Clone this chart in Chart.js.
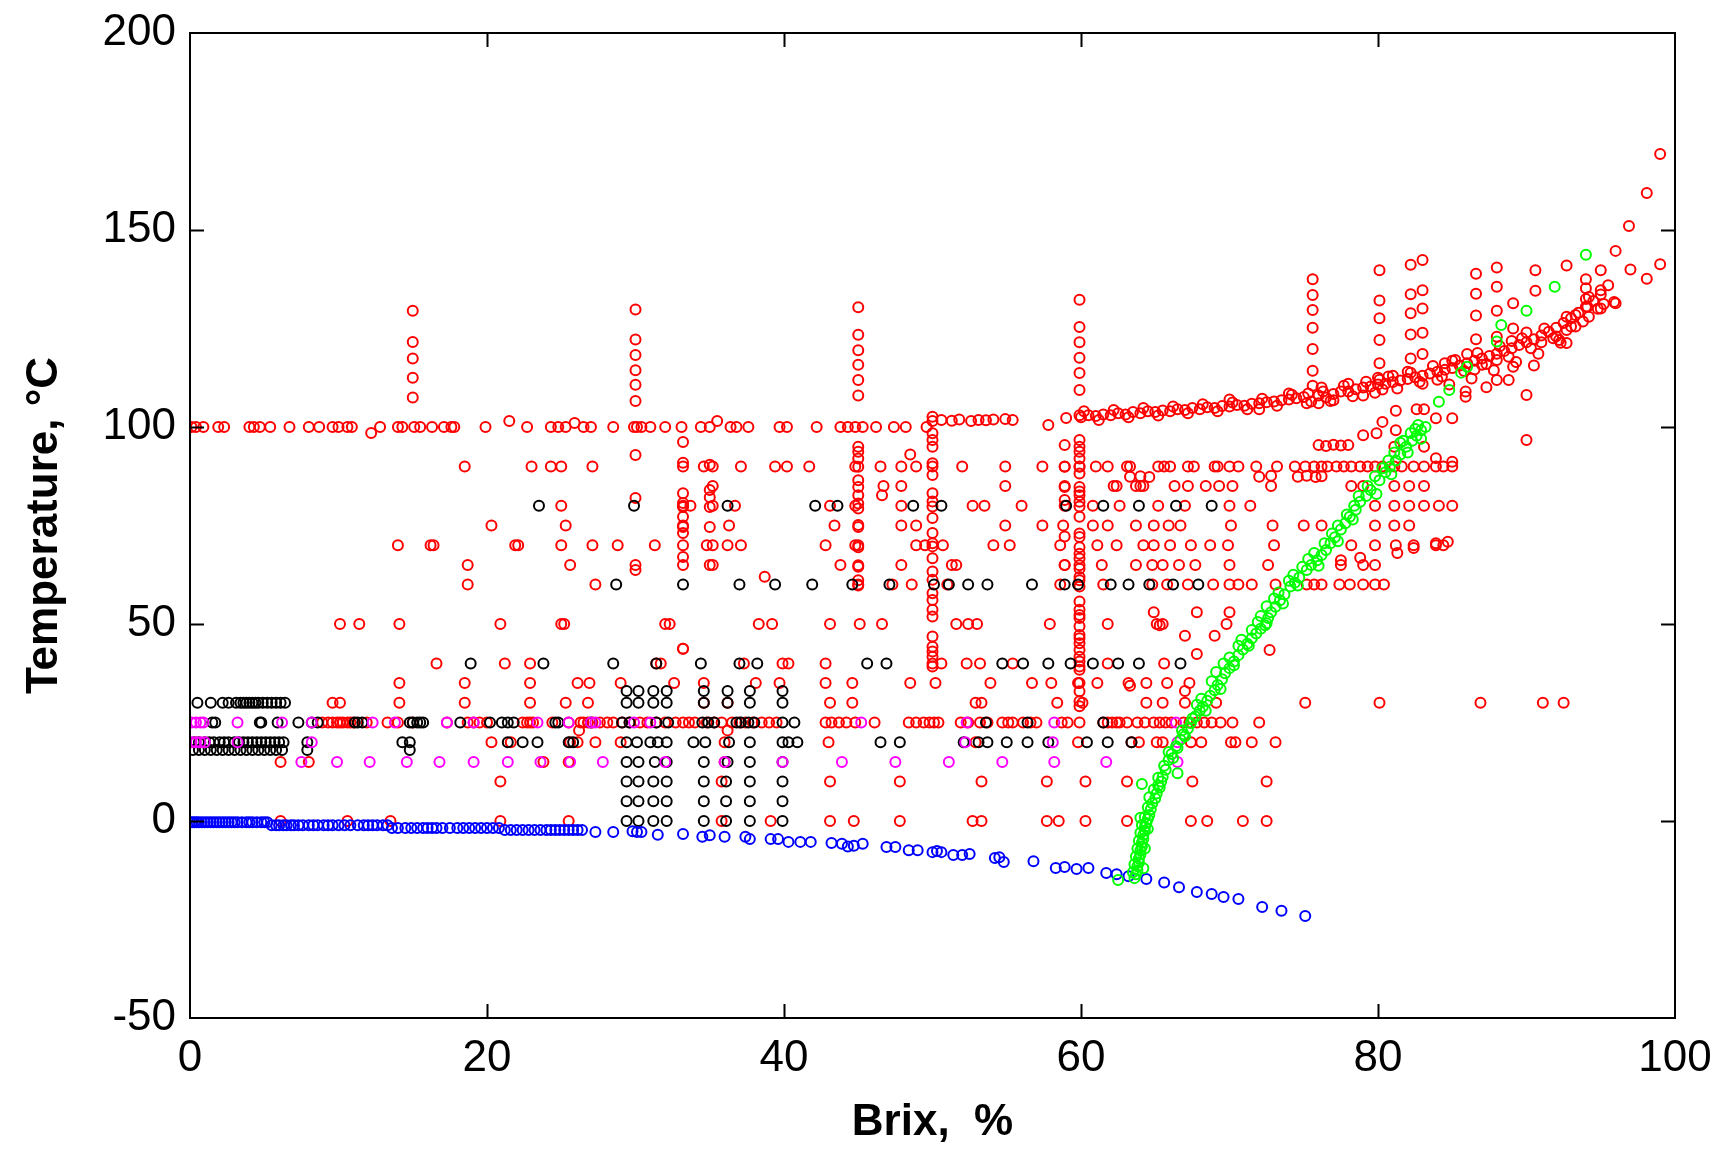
<!DOCTYPE html>
<html>
<head>
<meta charset="utf-8">
<script src="https://cdn.jsdelivr.net/npm/chart.js@4.4.0/dist/chart.umd.min.js"></script>
<style>
  html, body { margin: 0; padding: 0; background: #fff; }
  #wrap { width: 1730px; height: 1162px; position: relative; }
</style>
</head>
<body>
<div id="wrap"><canvas id="chart"></canvas></div>
<script>
// Brix vs temperature scatter (MATLAB style export)
// rows = measurements at one temperature, cols = one Brix, pairs = free points

// ---- red: boiling / general data ----
const red100 = [0.1, 0.4, 0.9, 1.9, 2.3, 4, 4.3, 4.7, 5.4, 6.7, 8, 8.7, 9.6, 10, 10.6, 10.9, 12.8, 14, 14.3, 15.1, 15.5, 16.3, 17.1, 17.6, 17.8, 19.9, 22.7, 24.3, 24.8, 25.3, 26.5, 27, 28.5, 29.9, 30.1, 30.4, 31, 32, 33.1, 34.4, 35, 36.4, 36.8, 37.6, 39.7, 40.2, 42.2, 43.8, 44.3, 44.8, 45.3, 46.2, 47.4, 48.2, 49.6];
const red90 = [18.5, 23, 24.3, 25, 27.1, 33.2, 34.6, 35.2, 37.1, 39.4, 40.2, 41.7, 44.8, 46.5, 47.9, 48.9, 50, 52, 54.9, 57.4, 58.9, 59.9, 61, 61.8, 63.1, 63.3, 65.2, 65.6, 66, 67.2, 67.6, 69, 69.2, 70, 70.6, 71.8, 73.2, 74.4, 75.1, 75.7, 76.2, 76.6, 77.2, 77.7, 78.2, 78.8, 79.3, 79.8, 80.3, 81.1, 81.6, 82.4, 83.1, 83.9, 84.4, 85];
const red85 = [35.2, 46.7, 47.9, 54.9, 58.9, 62.2, 62.4, 63.7, 64, 64.2, 66.3, 67.2, 68.4, 69.3, 70.2, 72.8, 78.2, 79, 81.1, 82.1, 83.1];
const red80 = [25, 33.2, 33.7, 35.2, 36.7, 43.1, 44.8, 47.9, 52.7, 53.5, 56, 58.9, 60.8, 62.6, 65.2, 67, 70, 71.4, 79.8, 81.1, 82.1, 83.1, 84.1, 85];
const red75 = [20.3, 25.3, 33.2, 36.3, 43.4, 47.9, 48.9, 54.9, 57.4, 58.8, 60.8, 61.8, 63.7, 64.9, 65.9, 66.7, 70.1, 72.9, 75, 76.2, 79.8, 81.1, 82.1];
const red70 = [14, 16.2, 16.4, 21.9, 22.1, 25, 27.1, 28.8, 31.3, 33.2, 34.8, 35.2, 36.2, 37.1, 42.8, 44.8, 48.9, 49.5, 50.7, 54.1, 55.2, 58.6, 61.1, 62.4, 64.2, 64.9, 66, 67.4, 68.7, 69.9, 73, 78.2, 79.8, 81.2, 82.4, 83.9, 84.4];
const red65 = [18.7, 25.6, 30, 33.2, 35.2, 43.8, 47.9, 51.3, 51.6, 58.9, 61.4, 63.7, 64.8, 65.5, 66.6, 67.7, 70, 72.6, 77.5, 79, 79.8];
const red60 = [18.7, 27.3, 45, 47.3, 48.6, 51, 58.6, 61.5, 64.8, 65.8, 67.2, 68.9, 70, 70.6, 71.5, 73.1, 75.2, 75.7, 76.2, 77.4, 78.1, 79, 79.8, 80.4];
const red50 = [10.1, 11.4, 14.1, 20.9, 25, 25.2, 32, 32.3, 38.3, 39.2, 43.1, 45.1, 46.6, 51.6, 52.4, 53, 57.9, 61.8, 65.1, 65.5, 69.8];
const red40 = [16.6, 21.2, 22.9, 31.4, 31.7, 37.3, 39.9, 40.3, 42.8, 50.6, 52.3, 53.2, 55.4, 61.8, 65.6];
const red35 = [14.1, 18.5, 22.9, 26.1, 26.9, 29, 32.6, 34.6, 38.1, 39.7, 42.8, 44.6, 48.5, 50.2, 53.9, 56.7, 58, 59.8, 61.1, 63.2, 64.4, 65.8, 67.3];
const red30 = [9.6, 10.1, 14.1, 18.5, 22.9, 25.3, 26.8, 34.6, 36.2, 43.1, 44.6, 52.9, 53.3, 58.4, 60.1, 64.4, 65.5, 67, 69.1, 75.1, 80.1, 86.9, 91.1, 92.5];
const red25 = [8.9, 9.3, 9.6, 9.9, 10.1, 10.3, 10.6, 10.8, 11, 11.9, 13.3, 14, 15, 17.3, 18.7, 19.1, 19.5, 20, 22.4, 22.7, 22.9, 23.1, 24.4, 25.5, 26.3, 26.5, 26.8, 27.1, 27.6, 28.1, 28.5, 29.1, 29.6, 30.3, 30.8, 31.4, 32, 32.7, 33.2, 33.6, 34, 34.8, 35.3, 35.8, 36.5, 37, 37.4, 37.9, 38.5, 39, 39.5, 42.8, 43.2, 43.7, 44.2, 44.8, 46.1, 48.4, 48.9, 49.4, 49.8, 50.1, 50.4, 51.9, 52.4, 53.2, 53.7, 54.7, 55.1, 55.4, 56.1, 56.6, 57, 58.7, 59.1, 59.9, 61.5, 61.8, 62.1, 62.4, 62.6, 63.1, 63.8, 64.3, 64.9, 65.3, 65.7, 66.1, 66.9, 67.3, 67.8, 68.3, 68.8, 69.4, 70.2, 72];
const red20 = [20.3, 21.6, 25.6, 26.1, 27.3, 29, 36, 43, 52.9, 59.8, 63.4, 63.9, 65.1, 65.5, 67.4, 68.1, 70.1, 70.4, 71.5, 73.1];
const red15 = [6.1, 8, 23.8, 25.5, 36];
const red10 = [20.9, 35.8, 43.1, 47.8, 53.3, 57.7, 60.3, 63.1, 67.5, 72.5];
const red0 = [6.1, 10.6, 13.5, 20.9, 25.5, 35.8, 39.1, 43.1, 44.7, 47.8, 52.7, 53.3, 57.7, 58.5, 60.3, 63.1, 67.4, 68.5, 70.9, 72.5];

const redBrix15 = [129.5, 121.6, 117.4, 112.5, 107.5];
const redBrix30 = [129.8, 122.2, 118.3, 114.4, 110.7, 106.6, 92.9, 82, 63.7];
const redBrix33 = [96.2, 90.9, 83.2, 80.7, 79.7, 77.2, 74.6, 73.1, 67, 43.7];
const redBrix35 = [90.4, 84, 82.2, 79.7, 74.6, 65];
const redBrix45 = [130.4, 123.4, 119.5, 115.8, 111.9, 108, 95, 93.7, 92, 89.9, 86.5, 84.8, 82.7, 80.6, 79.3, 75.1, 74.6, 70, 69.5, 64.9, 64.5, 61.1, 59.8];
const redBrix50 = [102.6, 98.4, 96.7, 95, 90.8, 87.8, 83.2, 81.1, 79.8, 76.9, 73.1, 70.5, 69.7, 66.7, 63.3, 61.2, 57.8, 56.1, 53.6, 51.9, 46.8, 44.2, 43, 41.7, 40, 39.2];
const redBrix59 = [95.4, 89.9, 84.8, 81.5, 72.2, 65];
const redBrix60 = [132.3, 125.4, 121.5, 117.6, 113.7, 109.4, 103, 96.7, 95, 93.7, 92, 89.9, 88.2, 84.8, 83.6, 82.7, 81, 79.8, 77.2, 73, 72.1, 69.5, 67.8, 66.6, 64.9, 64, 61.9, 61.1, 59.5, 55.7, 53.6, 52.3, 51.5, 49.4, 47.2, 46.4, 45.1, 43.4, 41.7, 40.5, 39.2, 38.4, 35, 32.9, 30.4, 29.1];

const redHigh = [[75.6,137.5],[75.6,133.5],[75.6,129.7],[75.6,125.2],[75.6,119.8],[75.6,114.3],[75.6,110.5],
  [80.1,139.8],[80.1,132.1],[80.1,127.6],[80.1,122.1],[80.1,116.2],[80.1,112],
  [82.2,141.2],[83,142.4],[82.2,133.7],[83,134.7],[82.2,128.9],[83,130.1],[82.2,123.5],[83,123.9],[82.2,117.4],[83,118.5],
  [86.6,138.9],[86.6,133.8],[86.6,128.3],[86.6,122.3],[88,140.5],[88,135.6],[88,129.5],[88,122.9],
  [90.6,139.8],[90.6,134.6],[89.1,131.4],[89.1,125],[94,137.5],[94,135.2],[95,139.8],[95,134.7],[96,131.4],[95,130.1],
  [94.1,130.5],[94.2,128],[93.3,128.4],[92.7,124.6],[92.2,122.1],[92.7,121.3],[89.1,115.3],[90.5,115.6],[88,111.9],
  [88.8,111.9],[87.3,110.1],[85.9,109],[85.9,107.7],[90,108.1],[90,96.7],[85,102.2],[83.9,102.2],[83.1,104.5],[82.6,104.5],
  [81.2,104.1],[81.2,99.2],[80.3,101.3],[79,97.9],[79.9,98.4],[81.1,95],[83.1,95],[83.9,92.1],[85,91.2],
  [84.7,70.9],[83.9,70.5],[82.4,69.3],[81.3,68],[77.5,66.2],[78.8,66.8],
  [99,169.3],[98.1,159.4],[96.9,151],[96,144.7],[99,141.3],[98.1,137.6],[97,140],[95.9,131.7],[92.7,141]];

const redCurve = [[60,102.5],[60.5,103],[61,102.8],[61.5,103.2],[62,103],[62.5,103.5],[63,103.2],[63.5,103.8],[64,103.5],[64.5,104],
  [65,103.8],[65.5,104.2],[66,104],[66.5,104.5],[67,104.3],[67.5,104.8],[68,104.5],[68.5,105],[69,104.8],[69.5,105.3],
  [70,105.2],[70.5,105.6],[71,105.4],[71.5,105.9],[72,106],[72.5,106.3],[73,106.5],[73.5,106.8],[74,107],[74.5,107.3],
  [75,107.6],[75.3,108.5],[75.5,106.5],[76,108],[76.3,109],[76.5,107.5],[77,108.4],[77.5,109],[78,109],[78.5,109.6],
  [79,110],[79.5,110.3],[80,110.8],[80.3,109.5],[80.5,111],[81,111.4],[81.5,111.8],[82,112.2],[82.5,112.6],[83,113],
  [83.5,113.6],[84,114],[84.5,114.5],[85,115],[85.5,115.6],[86,116.2],[86.5,116.8],[87,117.4],[87.5,118],[88,118.6],
  [88.5,119.3],[89,120],[89.5,120.8],[90,121.5],[90.5,122.3],[91,123.2],[91.5,124.2],[92,125.2],[92.5,126.4],[93,127.6],
  [93.5,129],[94,130.5],[94.5,132],[95,133.6],[70,107],[72,104.5],[74,108.5],[76,106],[78,111],[80,112.5],[82,114],
  [84,112],[86,118.5],[88,117],[90,124],[92,123],[94,132.5],[77,106.8],[79,108],[81,113],[83,111],[85,116.8],[87,115.8],
  [89,121.8],[91,121.5],[93,125.5],[84.5,116.2],[86.5,114.6],
  [60.2,104],[61.2,101.8],[62.2,104.3],[63.2,102.5],[64.2,104.8],[65.2,102.9],[66.2,105.2],[67.2,103.5],[68.2,105.8],
  [69.2,104],[70.2,106.2],[71.2,104.5],[72.2,107.2],[73.2,105.4],[74.2,108.2],[75.2,106],[76.2,110],[76.8,106.6],
  [77.7,110.5],[78.3,107.8],[79.2,111.5],[79.8,108.7],[80.7,112.8],[81.3,109.8],[82.2,113.8],[82.8,111.5],[83.7,115.5],
  [84.3,112.8],[85.2,117],[85.8,114.2],[86.7,118.8],[87.3,116],[88.2,120.5],[88.8,117.8],[89.7,122.5],[90.3,120],
  [91.2,125],[91.8,122.5],[92.7,128],[93.3,125.5],[94.2,133],[94.8,130],[95.5,136],[95.2,131.2],[93.8,126.8],
  [92.3,121.4],[90.8,118.6],[89.3,116.5],[87.8,114.4],[86.3,112.3],[84.8,110.8]];

const redMisc = [[12.2,98.5],[21.5,101.5],[25.9,101],[35.5,101.5],[50,101.5],[50.6,101.8],[51.3,101.6],[51.8,101.9],
  [52.6,101.5],[53.1,101.8],[53.6,101.7],[54.1,101.9],[54.9,102],[55.4,101.8],[57.8,100.5],[59,102.3],
  [76,95.4],[76.5,95.2],[77,95.5],[77.5,95.3],[78,95.4],[72,87.4],[72.8,87.6],[74.6,87.4],[75.2,87.6],[75.8,87.3],
  [76.2,87.5],[63.3,87.4],[64,87.5],[64.6,87.3],[46.6,82.7],[33.2,43.7],[38.7,62],[26.2,23],[36.2,23],
  [64.9,53],[67.8,53],[70,53],[65.3,49.7],[67,47],[69,47],[72.7,43.4],[67.8,42.4],[63.3,34.3],[67,33],[48.5,93]];

// ---- black ----
const black80 = [23.5, 29.9, 36.2, 42.1, 43.6, 48.7, 50.6, 59, 61.5, 63.9, 66.4, 68.8];
const black60 = [28.7, 33.2, 37, 39.4, 41.9, 44.6, 47.1, 50.1, 51.1, 52.4, 53.7, 56.7, 58.9, 59.8, 62, 63.2, 64.6, 66.2, 67.9];
const black40 = [18.9, 23.8, 28.5, 31.4, 34.4, 37, 38.2, 45.6, 46.9, 54.7, 56.1, 57.8, 59.3, 60.8, 62.5, 63.9, 66.7];
const black33 = [29.4, 30.2, 31.2, 32.1, 34.6, 36.2, 37.7, 39.9];
const black30 = [0.5, 1.4, 2.2, 2.6, 3.1, 3.4, 3.6, 3.8, 4, 4.2, 4.4, 4.6, 4.9, 5.2, 5.5, 5.8, 6.1, 6.4, 29.4, 30.2, 31.2, 32.1, 34.6, 36.2, 37.7, 39.9];
const black25 = [1.5, 1.7, 4.7, 4.8, 5.9, 7.3, 8.2, 8.6, 11.1, 11.3, 11.6, 14.8, 15, 15.3, 15.5, 15.7, 18.2, 20.2, 21, 21.4, 21.8, 24.6, 24.8, 27, 29.1, 29.6, 31.4, 32.2, 34.5, 34.9, 35.3, 36.8, 37.1, 37.6, 38, 39.9, 40.7, 53.6, 56.4, 61.5];
const black20 = [0.3, 0.6, 1, 1.3, 1.6, 2, 2.3, 2.6, 3, 3.3, 3.6, 3.9, 4.2, 4.5, 4.8, 5.1, 5.4, 5.7, 6, 6.3, 7.9, 14.3, 14.8, 21.4, 22.4, 23.4, 25.5, 25.8, 29.4, 30.1, 31, 31.5, 32.1, 33.9, 34.7, 36.3, 37.7, 39.9, 40.3, 40.9, 46.5, 47.8, 52.1, 53.1, 53.7, 55, 56.4, 57.8, 60.4, 61.8, 63.4];
const black18 = [0.2, 0.6, 1, 1.4, 1.8, 2.2, 2.6, 3, 3.4, 3.8, 4.2, 4.6, 5, 5.4, 5.8, 6.2, 7.9, 14.8];
const black15 = [29.4, 30.2, 31.3, 32.1, 34.6, 36.2, 37.7, 39.9];
const black10 = [29.4, 30.2, 31.2, 32.1, 34.6, 36.1, 37.7, 39.9];
const black5 = [29.4, 30.2, 31.2, 32.1, 34.6, 36.1, 37.7, 39.9];
const black0 = [29.4, 30.2, 31.2, 32.1, 34.6, 36.1, 37.7, 39.9];

// ---- magenta ----
const mag25 = [0.1, 0.4, 0.7, 0.9, 3.2, 6.2, 8.2, 12.3, 13.8, 17.3, 19.1, 23.4, 25.5, 27, 27.3, 29.9, 31, 45.2, 52.3, 58.2, 66.4];
const mag20 = [0.1, 0.4, 0.7, 1, 3.2, 8.2, 52.2, 58.1, 66.5];
const mag15 = [7.5, 9.9, 12.1, 14.6, 16.8, 19.1, 21.4, 23.6, 25.6, 27.8, 32, 36, 39.9, 43.9, 47.5, 51.1, 54.7, 58.2, 61.7, 66.5];

// ---- blue: freezing points ----
const blueNear0 = [0, 0.15, 0.3, 0.45, 0.6, 0.8, 1, 1.2, 1.4, 1.6, 1.8, 2, 2.2, 2.4, 2.6, 2.8, 3, 3.2, 3.5, 3.8, 4, 4.2, 4.5, 4.8, 5, 5.2];
const blueNear1 = [5.5, 5.8, 6, 6.3, 6.5, 6.8, 7, 7.3, 7.6, 8, 8.3, 8.6, 9, 9.3, 9.6, 10, 10.4, 10.8, 11.3, 11.7, 12, 12.3, 12.6, 13, 13.3];
const blueNear2 = [13.6, 14, 14.5, 14.9, 15.3, 15.7, 16, 16.3, 16.6, 17, 17.5, 18, 18.4, 18.8, 19.2, 19.6, 20, 20.4, 20.8];
const blueNear3 = [21.2, 21.6, 22, 22.4, 22.8, 23.2, 23.6, 24, 24.3, 24.6, 24.9, 25.2, 25.5, 25.8, 26.1, 26.4];
const blueTail = [[27.3,-2.8],[28.5,-2.8],[29.8,-2.6],[30.1,-2.8],[30.4,-2.8],[31.5,-3.5],[33.2,-3.3],[34.5,-4],[35,-3.6],
  [36,-4],[37.4,-4],[37.7,-4.6],[39.1,-4.6],[39.6,-4.6],[40.3,-5.3],[41.1,-5.3],[41.8,-5.3],[43.2,-5.6],[43.9,-5.8],
  [44.3,-6.5],[44.7,-6.3],[45.3,-5.8],[46.9,-6.6],[47.5,-6.6],[48.4,-7.4],[49,-7.4],[50,-7.9],[50.3,-7.6],[50.6,-7.9],
  [51.4,-8.6],[52,-8.6],[52.5,-8.4],[54.2,-9.4],[54.5,-9.2],[54.8,-10.4],[56.8,-10.2],[58.3,-11.9],[58.9,-11.7],
  [59.7,-12.2],[60.5,-11.9],[61.7,-13.2],[62.4,-13.5],[63.2,-14],[64.4,-14.7],[65.6,-15.6],[66.6,-16.8],[67.8,-18],
  [68.8,-18.5],[69.6,-19.3],[70.6,-19.8],[72.2,-21.8],[73.5,-22.8],[75.1,-24.1]];

// ---- green ----
const greenPts = [[62.5,-15],[63.6,-14.5],[63.7,-13.5],[63.8,-12.5],[63.8,-11.5],[63.9,-10.5],[63.9,-9.5],[64,-8.5],[64,-7.5],
  [64.1,-6.5],[64.1,-5.5],[64.2,-4.5],[64.2,-3.5],[64.3,-2.5],[64.3,-1.5],[64.4,-0.5],[64.5,0.5],[64,0.8],[64.6,1.5],
  [64.7,3],[64.8,4.5],[65,5.8],[65.1,7],[65.3,8.5],[64.1,9.4],[65.4,10],[65.5,11.2],[66.5,12.1],[65.7,13],[65.9,15.5],
  [66.1,17],[66.4,19],[66.7,20.6],[66.9,22],[67.2,23.5],[67.4,24.9],[67.7,26.5],[68,28],[68.2,29],[68.5,30.5],[68.7,31.8],
  [69,33.2],[69.2,34.5],[69.5,36],[69.7,37.5],[70,38.8],[70.3,40.5],[70.6,42.1],[70.9,43.5],[71.2,45],[71.5,46.4],
  [71.8,47.6],[72.1,48.8],[72.4,49.7],[72.6,51.5],[72.8,53],[73.1,54.4],[73.4,56],[73.7,57.5],[74.1,59.5],[74.4,60.5],
  [74.7,61.8],[75.2,63.7],[75.5,65],[75.9,66.2],[76.2,67.5],[76.5,68.8],[76.8,70.5],[77.1,72],[77.5,74],[77.8,75.6],
  [78.1,77.2],[78.5,79],[78.8,81],[79.2,82.5],[79.5,84],[80.1,86.5],[80.5,88.5],[80.8,89.9],[81.2,91.5],[81.5,93],
  [81.9,95],[82.3,96.5],[82.6,97.8],[82.9,99.2],[83.2,100],[82.5,99.5],[81.5,96],
  [64.2,-12],[64.3,-7],[64.5,-2],[65.2,9],[66.2,16],[67,21.5],[68.4,28],[69.4,33.5],[70.3,39.5],[71.3,44.5],[72.5,50.2],
  [73.6,55.2],[74.6,59.8],[76,64.8],[77.3,71],[78.3,76.5],[79.9,83],[80.9,88],[82,93.5],[82.9,97],
  [63.5,-13],[63.6,-11],[63.7,-9],[63.8,-7],[63.9,-5],[64,-3],[64.1,-1],[64.3,1],[64.5,3.5],[64.6,6],[64.9,8],[65.2,11],
  [65.6,14],[65.9,17.5],[66.5,18.5],[66.8,23],[67.5,26],[67.8,29.5],[68.1,31],[68.8,35.5],[69.1,37.8],[69.6,40],[70,41.5],
  [70.6,44.5],[70.8,46],[71.5,48.5],[71.9,50.5],[72.1,52],[72.5,54.5],[73,56.5],[73.3,58],[74,61],[74.3,62.5],[74.9,64.5],
  [75.3,66.5],[75.7,68],[76.4,70.5],[76.9,73],[77.3,75],[77.9,77.8],[78.4,80],[78.7,82.5],[79.3,85],[79.8,87.5],
  [80.3,89.5],[80.7,91.5],[81.1,93.5],[81.7,96.5],[82.2,98.5],[82.7,100.5],
  [84.1,106.4],[84.8,109.4],[85.6,113.8],[86,115.3],[88,121.7],[88.3,125.9],[90,129.5],[91.9,135.6],[94,143.7]];

const row = (t, xs) => xs.map(x => ({ x, y: t }));
const col = (b, ts) => ts.map(y => ({ x: b, y }));
const pairs = (ps) => ps.map(([x, y]) => ({ x, y }));

const redData = [].concat(
  row(100, red100), row(90, red90), row(85, red85), row(80, red80), row(75, red75), row(70, red70),
  row(65, red65), row(60, red60), row(50, red50), row(40, red40), row(35, red35), row(30, red30),
  row(25, red25), row(20, red20), row(15, red15), row(10, red10), row(0, red0),
  col(15, redBrix15), col(30, redBrix30), col(33.2, redBrix33), col(35, redBrix35), col(45, redBrix45),
  col(50, redBrix50), col(58.9, redBrix59), col(59.9, redBrix60),
  pairs(redHigh), pairs(redCurve), pairs(redMisc)
);
const blackData = [].concat(
  row(80, black80), row(60, black60), row(40, black40), row(33, black33), row(30, black30), row(25, black25),
  row(20, black20), row(18, black18), row(15, black15), row(10, black10), row(5, black5), row(0, black0)
);
const magData = [].concat(row(25, mag25), row(20, mag20), row(15, mag15));
const blueData = [].concat(
  row(-0.3, blueNear0), row(-1.1, blueNear1), row(-1.8, blueNear2), row(-2.3, blueNear3), pairs(blueTail)
);
const greenData = pairs(greenPts);

const FONT = "'Liberation Sans', Arial, Helvetica, sans-serif";

function ds(data, color) {
  return {
    data,
    borderColor: color,
    backgroundColor: "rgba(0,0,0,0)",
    pointStyle: "circle",
    pointRadius: 5,
    pointBorderWidth: 2,
    pointHoverRadius: 5,
    showLine: false,
  };
}

// box + inward ticks like MATLAB axes
const boxTicks = {
  id: "boxTicks",
  afterDraw(chart) {
    const { ctx, chartArea: a, scales } = chart;
    const len = 14;
    ctx.save();
    ctx.strokeStyle = "#000";
    ctx.lineWidth = 2;
    ctx.strokeRect(a.left, a.top, a.right - a.left, a.bottom - a.top);
    ctx.beginPath();
    scales.x.ticks.forEach(t => {
      if (t.value <= scales.x.min || t.value >= scales.x.max) return;
      const px = Math.round(scales.x.getPixelForValue(t.value)) + 0.5;
      ctx.moveTo(px, a.bottom); ctx.lineTo(px, a.bottom - len);
      ctx.moveTo(px, a.top); ctx.lineTo(px, a.top + len);
    });
    scales.y.ticks.forEach(t => {
      if (t.value <= scales.y.min || t.value >= scales.y.max) return;
      const py = Math.round(scales.y.getPixelForValue(t.value)) + 0.5;
      ctx.moveTo(a.left, py); ctx.lineTo(a.left + len, py);
      ctx.moveTo(a.right, py); ctx.lineTo(a.right - len, py);
    });
    ctx.stroke();
    ctx.restore();
  }
};

new Chart(document.getElementById("chart").getContext("2d"), {
  type: "scatter",
  data: {
    datasets: [
      ds(greenData, "#00ff00"),
      ds(blueData, "#0000ff"),
      ds(magData, "#ff00ff"),
      ds(blackData, "#000000"),
      ds(redData, "#ff0000"),
    ]
  },
  options: {
    responsive: true,
    maintainAspectRatio: false,
    animation: false,
    layout: { padding: { left: 0, right: 55, top: 33, bottom: 0 } },
    plugins: { legend: { display: false }, tooltip: { enabled: false } },
    scales: {
      x: {
        type: "linear", min: 0, max: 100,
        grid: { display: false, drawTicks: false },
        border: { display: false },
        ticks: { stepSize: 20, padding: 14, color: "#000", font: { family: FONT, size: 44 }, maxRotation: 0 },
        title: { display: true, text: "Brix,  %", color: "#000", font: { family: FONT, size: 44, weight: "bold" }, padding: { top: 0, bottom: 13 } },
        afterFit(scale) { scale.height = 144; }
      },
      y: {
        type: "linear", min: -50, max: 200,
        grid: { display: false, drawTicks: false },
        border: { display: false },
        ticks: { stepSize: 50, padding: 14, color: "#000", font: { family: FONT, size: 44, lineHeight: 0.85 } },
        title: { display: true, text: "Temperature, °C", color: "#000", font: { family: FONT, size: 44, weight: "bold" }, padding: { top: 18, bottom: 0 } },
        afterFit(scale) { scale.width = 190; }
      }
    }
  },
  plugins: [boxTicks]
});
</script>
</body>
</html>
